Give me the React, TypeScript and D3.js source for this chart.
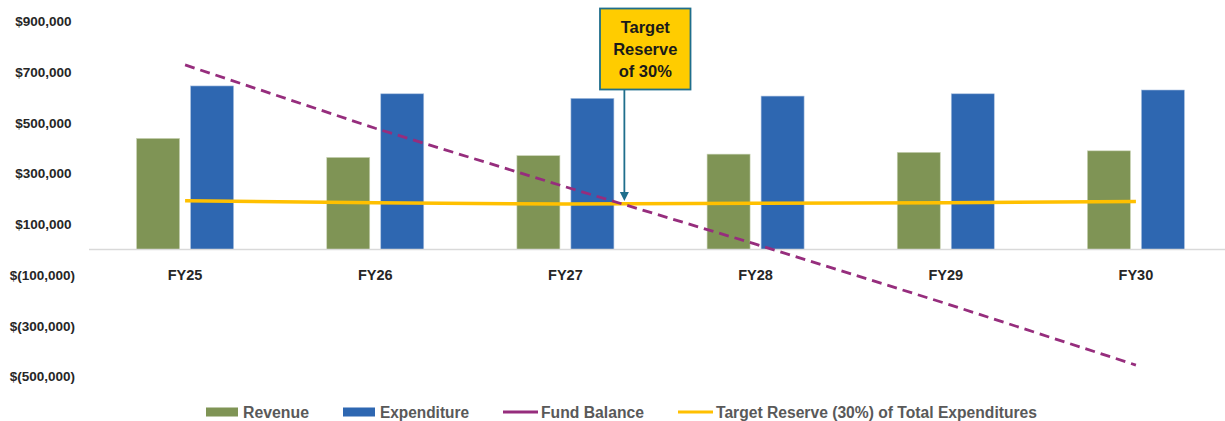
import React from "react";
import * as d3 from "d3";

const categories = ["FY25", "FY26", "FY27", "FY28", "FY29", "FY30"];
const revenue = [438000, 363000, 370000, 376000, 383000, 389000];
const expenditure = [645000, 614000, 596000, 605000, 614000, 629000];
const fundBalance = [728000, 478000, 247000, 21000, -213000, -456000];
const targetReserve = [192000, 184000, 179000, 182000, 184000, 189000];
const yTicks = [900000, 700000, 500000, 300000, 100000, -100000, -300000, -500000];
const seriesNames = ["Revenue", "Expenditure"];

const W = 1225;
const H = 421;
const GREEN = "#7F9455";
const BLUE = "#2E67B1";
const PURPLE = "#962D7D";
const YELLOW = "#FFC000";
const TEAL = "#1F6E8C";

function fmt(v: number): string {
  const s = d3.format(",")(Math.abs(v));
  return v < 0 ? `$(${s})` : `$${s}`;
}

export default function App() {
  const x = d3.scaleBand<string>().domain(categories).range([90, 1231]).paddingInner(0).paddingOuter(0);
  const y = d3.scaleLinear().domain([-500000, 900000]).range([376.2, 21.3]);
  const inner = d3.scaleBand<string>().domain(seriesNames).range([-48.5, 48.5]).paddingInner(0.204);
  const cx = (c: string) => (x(c) as number) + x.bandwidth() / 2;

  const line = d3
    .line<number>()
    .x((_, i) => cx(categories[i]))
    .y((d) => y(d));

  const sans = "'Liberation Sans', Arial, sans-serif";
  const narrow = "'Liberation Sans Narrow', 'Liberation Sans', Arial, sans-serif";

  // annotation anchored to the FY27 reserve value
  const arrowX = cx("FY27") + x.bandwidth() * 0.31;
  const arrowTip = y(targetReserve[2]) - 3;
  const boxX = 600;
  const boxY = 8.5;
  const boxW = 90.5;
  const boxH = 81;

  const legend = [
    { kind: "rect", color: GREEN, x0: 206, x1: 238, tx: 243, tl: 66, label: "Revenue" },
    { kind: "rect", color: BLUE, x0: 343, x1: 375, tx: 380, tl: 89, label: "Expenditure" },
    { kind: "line", color: PURPLE, x0: 503, x1: 538, tx: 541, tl: 103, label: "Fund Balance" },
    { kind: "line", color: YELLOW, x0: 678, x1: 713, tx: 716, tl: 321, label: "Target Reserve (30%) of Total Expenditures" },
  ];

  return (
    <svg width={W} height={H} style={{ position: "absolute", left: 0, top: 0, background: "#fff" }}>
      <rect x={0} y={0} width={W} height={H} fill="#fff" />
      {/* y labels */}
      {yTicks.map((t) => (
        <text
          key={t}
          x={t < 0 ? 75 : 71.5}
          y={y(t) + 5}
          textAnchor="end"
          fontFamily={sans}
          fontWeight="bold"
          fontSize={13.5}
          fill="#262626"
        >
          {fmt(t)}
        </text>
      ))}
      {/* bars */}
      {categories.map((c, i) => (
        <g key={c}>
          <rect
            x={cx(c) + (inner("Revenue") as number)}
            y={y(revenue[i])}
            width={inner.bandwidth()}
            height={y(0) - y(revenue[i])}
            fill={GREEN}
            stroke="#C9D3B5"
            strokeWidth={0.6}
          />
          <rect
            x={cx(c) + (inner("Expenditure") as number)}
            y={y(expenditure[i])}
            width={inner.bandwidth()}
            height={y(0) - y(expenditure[i])}
            fill={BLUE}
            stroke="#A9C0E0"
            strokeWidth={0.6}
          />
        </g>
      ))}
      {/* zero axis */}
      <line x1={89} x2={W} y1={y(0)} y2={y(0)} stroke="#D9D9D9" strokeWidth={1.5} />
      {/* category labels */}
      {categories.map((c) => (
        <text
          key={c}
          x={cx(c)}
          y={280}
          textAnchor="middle"
          fontFamily={sans}
          fontWeight="bold"
          fontSize={14.5}
          fill="#262626"
        >
          {c}
        </text>
      ))}
      {/* target reserve */}
      <path d={line(targetReserve) || ""} fill="none" stroke={YELLOW} strokeWidth={3.5} strokeLinejoin="round" />
      {/* fund balance */}
      <path
        d={line(fundBalance) || ""}
        fill="none"
        stroke={PURPLE}
        strokeWidth={2.8}
        strokeDasharray="10,6"
        strokeLinejoin="round"
      />
      {/* annotation */}
      <line x1={arrowX} x2={arrowX} y1={boxY + boxH} y2={arrowTip - 8} stroke={TEAL} strokeWidth={1.8} />
      <path
        d={`M${arrowX - 4.5},${arrowTip - 9} L${arrowX + 4.5},${arrowTip - 9} L${arrowX},${arrowTip} Z`}
        fill={TEAL}
      />
      <rect x={boxX} y={boxY} width={boxW} height={boxH} fill="#FFCC00" stroke={TEAL} strokeWidth={1.8} />
      {["Target", "Reserve", "of 30%"].map((t, i) => (
        <text
          key={t}
          x={boxX + boxW / 2}
          y={boxY + 24 + i * 22.3}
          textAnchor="middle"
          fontFamily={narrow}
          fontWeight="bold"
          fontSize={16.5}
          fill="#1a1a1a"
        >
          {t}
        </text>
      ))}
      {/* legend */}
      {legend.map((l) => (
        <g key={l.label}>
          {l.kind === "rect" ? (
            <rect x={l.x0} y={407.5} width={l.x1 - l.x0} height={9} fill={l.color} />
          ) : (
            <line x1={l.x0} x2={l.x1} y1={412} y2={412} stroke={l.color} strokeWidth={3} />
          )}
          <text
            x={l.tx}
            y={417.5}
            fontFamily={narrow}
            fontWeight="bold"
            fontSize={16}
            fill="#595959"
            textLength={l.tl}
            lengthAdjust="spacingAndGlyphs"
          >
            {l.label}
          </text>
        </g>
      ))}
    </svg>
  );
}
